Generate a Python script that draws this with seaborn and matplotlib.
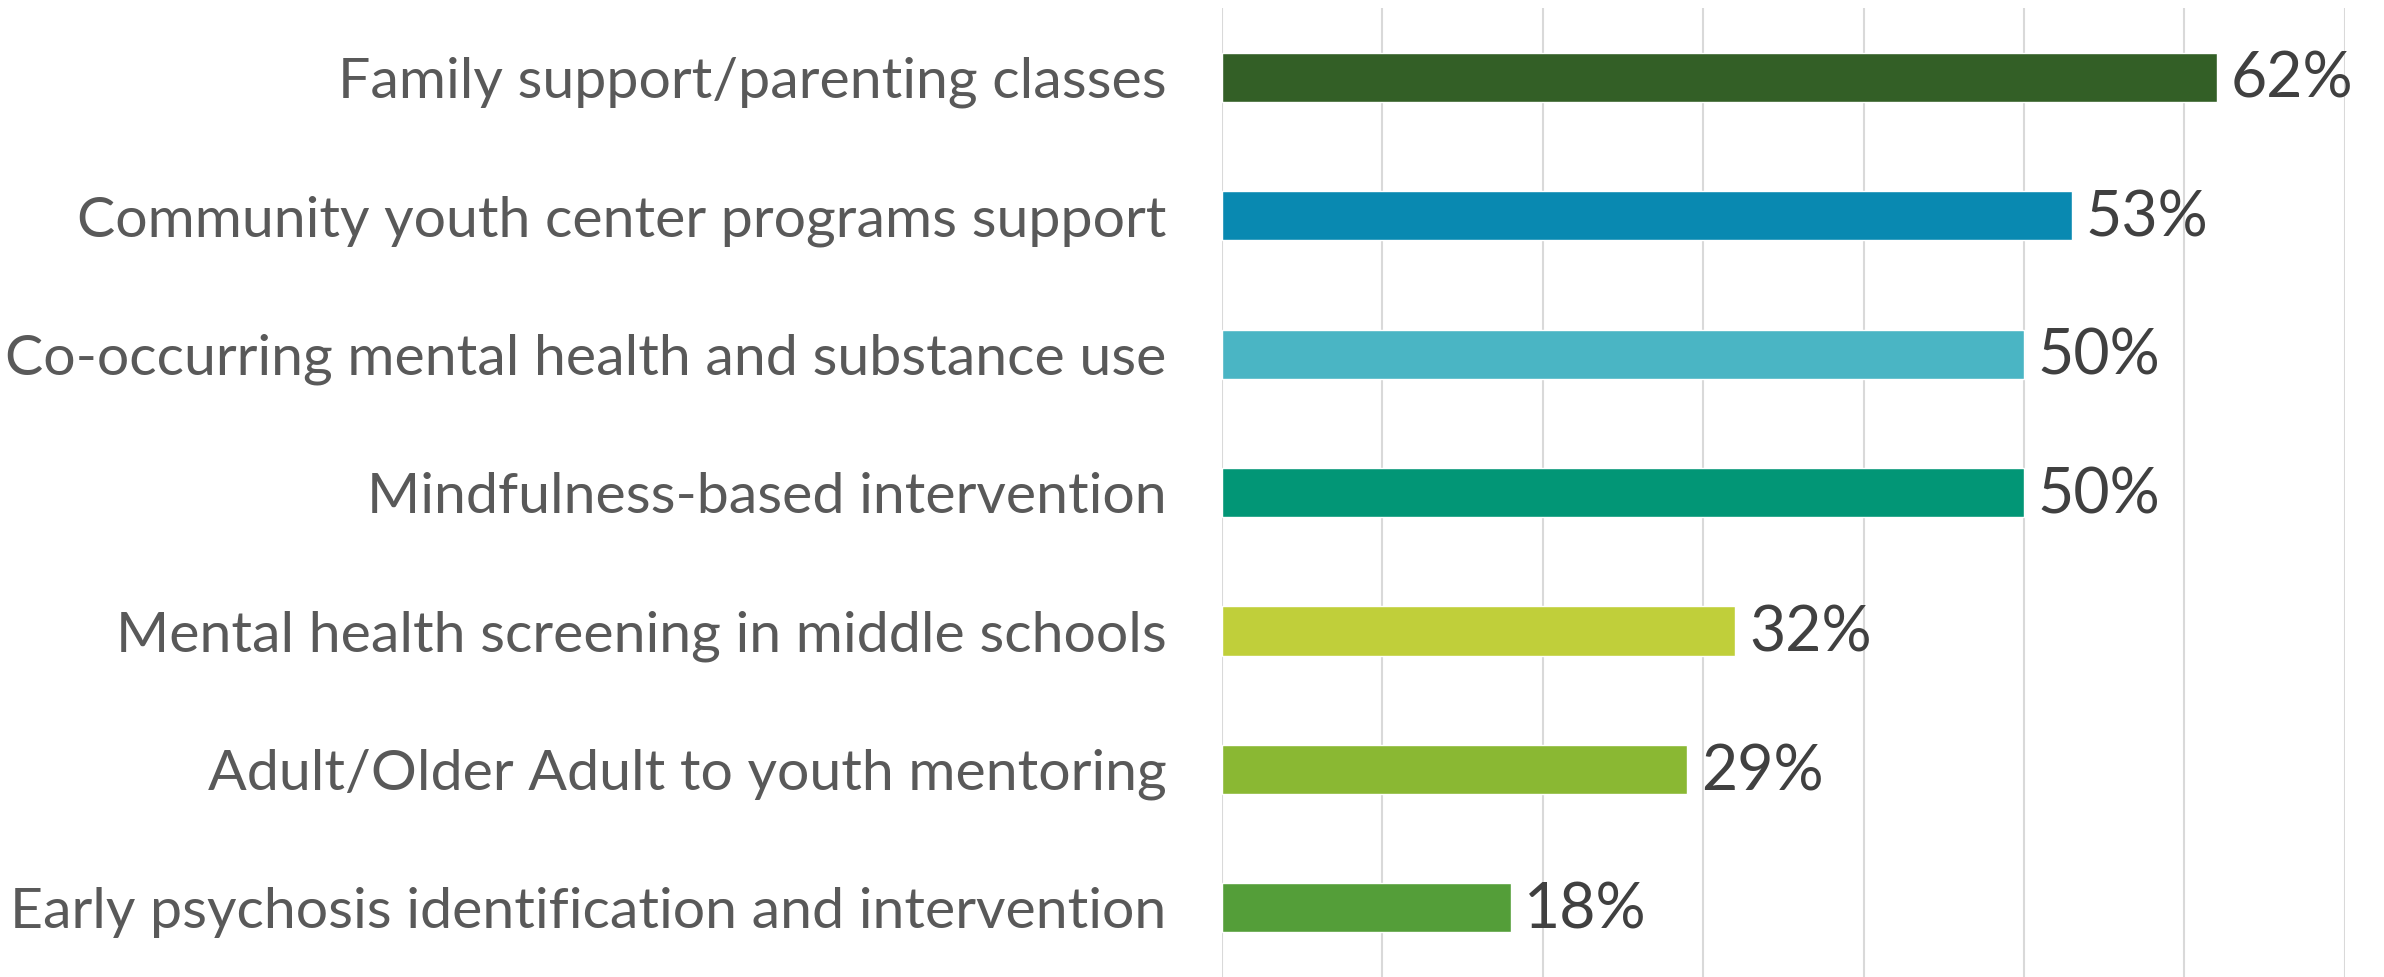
import matplotlib
matplotlib.use("Agg")
import matplotlib.pyplot as plt
import seaborn as sns
import pandas as pd

categories = [
    "Family support/parenting classes",
    "Community youth center programs support",
    "Co-occurring mental health and substance use",
    "Mindfulness-based intervention",
    "Mental health screening in middle schools",
    "Adult/Older Adult to youth mentoring",
    "Early psychosis identification and intervention",
]
values = [62, 53, 50, 50, 32, 29, 18]
bar_colors = ["#335F26", "#0989B1", "#4AB5C4", "#029676", "#C0CF3A", "#8AB833", "#549E39"]
grid_ticks = [0, 10, 20, 30, 40, 50, 60, 70]

df = pd.DataFrame({"category": categories, "value": values})

sns.set_theme(style="white")
plt.rcParams["font.family"] = ["Lato", "DejaVu Sans"]

fig = plt.figure(figsize=(23.84, 9.77), dpi=100)
ax = fig.add_axes([0.5126, 0.0, 0.4710, 0.9918])

sns.barplot(data=df, x="value", y="category", hue="category",
            palette=bar_colors, legend=False, width=0.355,
            saturation=1, ax=ax)

ax.set_xlim(0, 70)
ax.set_ylim(6.5, -0.5)
ax.set_xticks(grid_ticks)
ax.set_xticklabels([])
ax.grid(True, axis="x", color="#D9D9D9", lw=1.5)
ax.set_axisbelow(True)
for s in ax.spines.values():
    s.set_visible(False)
ax.tick_params(axis="both", length=0)
ax.tick_params(axis="y", labelsize=41.2, labelcolor="#595959", pad=40)
ax.set_xlabel("")
ax.set_ylabel("")

for i, v in enumerate(values):
    ax.text(v + 0.85, i + 0.02, f"{v}%", va="center", ha="left",
            fontsize=45, color="#404040")

fig.savefig("out.png", dpi=100)
